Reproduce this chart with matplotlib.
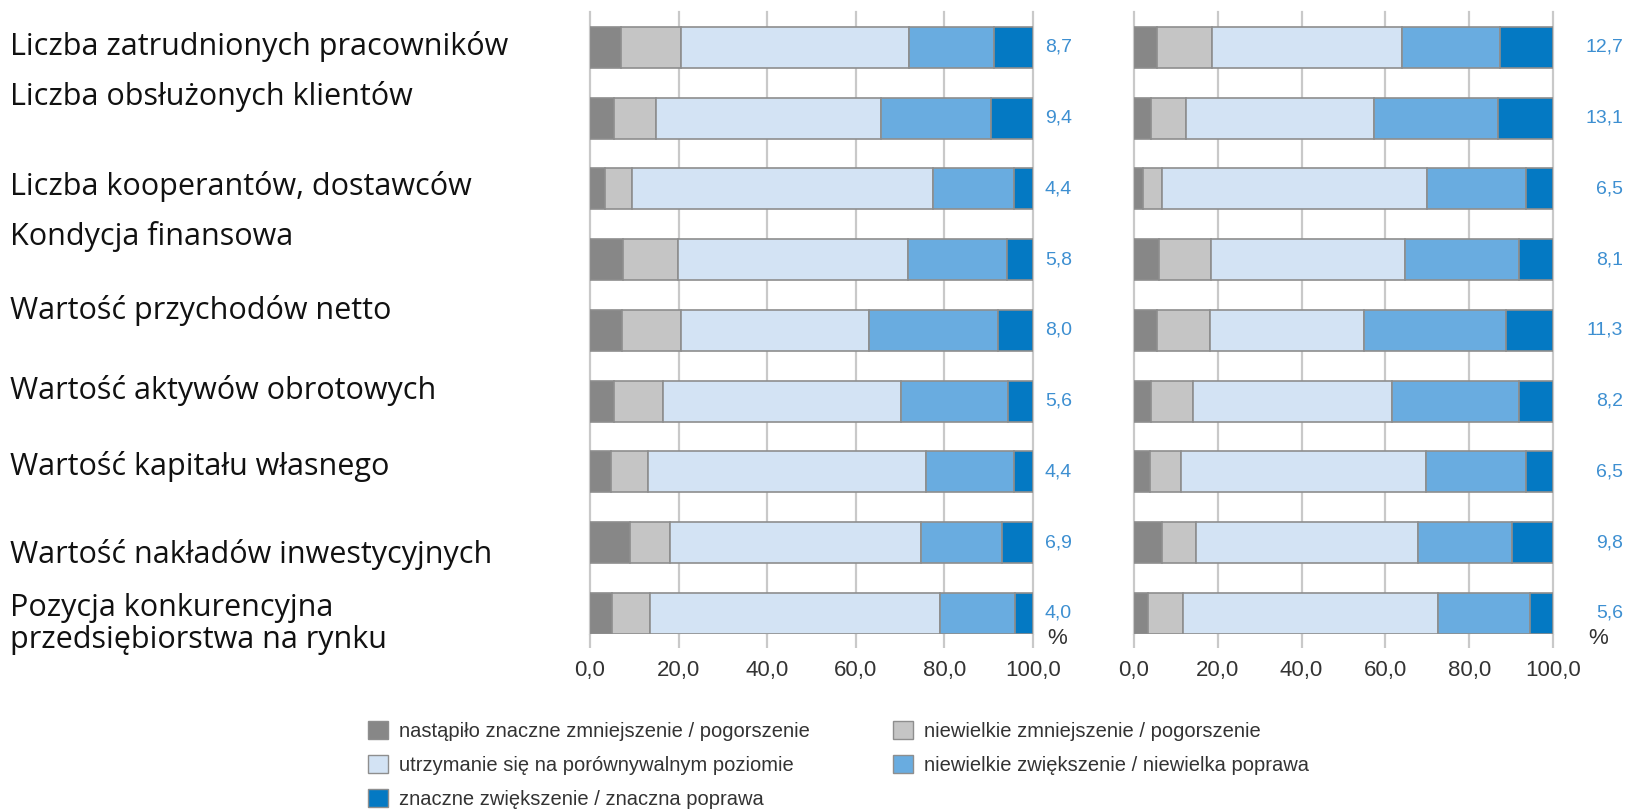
import matplotlib
matplotlib.use("Agg")
import matplotlib.pyplot as plt
from matplotlib.patches import Patch
import numpy as np

plt.rcParams["font.family"] = ["Liberation Sans", "DejaVu Sans"]

# kategorie (opisy po lewej) i legenda
categories = [
    "Liczba zatrudnionych pracowników",
    "Liczba obsłużonych klientów",
    "Liczba kooperantów, dostawców",
    "Kondycja finansowa",
    "Wartość przychodów netto",
    "Wartość aktywów obrotowych",
    "Wartość kapitału własnego",
    "Wartość nakładów inwestycyjnych",
    "Pozycja konkurencyjna\nprzedsiębiorstwa na rynku",
]
legend_labels = [
    "nastąpiło znaczne zmniejszenie / pogorszenie",
    "niewielkie zmniejszenie / pogorszenie",
    "utrzymanie się na porównywalnym poziomie",
    "niewielkie zwiększenie / niewielka poprawa",
    "znaczne zwiększenie / znaczna poprawa",
]
ticks = [0, 20, 40, 60, 80, 100]

# lewy panel, wartości w %
left_big_down = [7.1, 5.5, 3.4, 7.5, 7.3, 5.5, 4.7, 9.0, 5.0]
left_small_down = [13.4, 9.5, 6.0, 12.4, 13.2, 10.9, 8.5, 9.0, 8.5]
left_same = [51.5, 50.6, 68.0, 51.8, 42.4, 53.8, 62.7, 56.8, 65.6]
left_small_up = [19.3, 25.0, 18.2, 22.5, 29.1, 24.2, 19.7, 18.3, 16.9]
left_big_up = [8.7, 9.4, 4.4, 5.8, 8.0, 5.6, 4.4, 6.9, 4.0]

# prawy panel
right_big_down = [5.6, 4.0, 2.1, 5.9, 5.6, 4.0, 3.7, 6.7, 3.4]
right_small_down = [12.9, 8.4, 4.7, 12.4, 12.6, 10.0, 7.4, 8.1, 8.2]
right_same = [45.4, 44.8, 63.1, 46.4, 36.6, 47.5, 58.6, 52.9, 60.9]
right_small_up = [23.4, 29.7, 23.6, 27.2, 33.9, 30.3, 23.8, 22.5, 21.9]
right_big_up = [12.7, 13.1, 6.5, 8.1, 11.3, 8.2, 6.5, 9.8, 5.6]

colors = ["#878787", "#c5c5c5", "#d3e3f4", "#69ace0", "#0479c3"]
edge = "#8e8e8e"
grid_c = "#c9c9c9"
txt_c = "#333333"
val_c = "#3d8fd1"

W, H = 1628, 811
fig = plt.figure(figsize=(W / 100, H / 100), dpi=100)


def px_axes(x0, x1, y0, y1):
    return fig.add_axes([x0 / W, 1 - y1 / H, (x1 - x0) / W, (y1 - y0) / H])


def panel(ax, series, lab_dx, pct_dx):
    y = np.arange(len(categories))
    left = np.zeros(len(categories))
    for vals, c in zip(series, colors):
        ax.barh(y, vals, left=left, height=0.58, color=c, edgecolor=edge,
                linewidth=1.2, zorder=3)
        left += np.array(vals)
    ax.set_xlim(0, 100)
    ax.set_ylim(8.29, -0.5)
    ax.set_xticks(ticks)
    ax.set_xticklabels([f"{t:.1f}".replace(".", ",") for t in ticks])
    ax.set_yticks([])
    for s in ax.spines.values():
        s.set_visible(False)
    ax.grid(axis="x", color=grid_c, linewidth=1.6, zorder=0)
    for gl in ax.get_xgridlines():
        gl.set_clip_on(False)
    ax.tick_params(axis="x", length=10, width=1.6, color=grid_c, pad=9,
                   labelsize=16, labelcolor=txt_c)
    for i, v in enumerate(series[-1]):
        ax.annotate(f"{v:.1f}".replace(".", ","), xy=(100, i),
                    xytext=(lab_dx, 0), textcoords="offset pixels",
                    ha="right", va="center", color=val_c, fontsize=14,
                    annotation_clip=False)
    ax.annotate("%", xy=(100, 8), xytext=(pct_dx, -25),
                textcoords="offset pixels", ha="left", va="center",
                color=txt_c, fontsize=16, annotation_clip=False)


ax1 = px_axes(590, 1033, 12, 634)
panel(ax1, [left_big_down, left_small_down, left_same, left_small_up, left_big_up], 39, 14)
ax2 = px_axes(1134, 1553, 12, 634)
panel(ax2, [right_big_down, right_small_down, right_same, right_small_up, right_big_up], 70, 35)

# opisy kategorii
label_y = [47, 96, 186, 236, 311, 391, 467, 554, 624]
for lab, yy in zip(categories, label_y):
    fig.text(10 / W, 1 - yy / H, lab, ha="left", va="center", fontsize=22,
             family="Open Sans", color="#111111", linespacing=1.1)

handles = [Patch(facecolor=c, edgecolor=edge, linewidth=1.0) for c in colors]
order = [0, 2, 4, 1, 3]
fig.legend([handles[i] for i in order], [legend_labels[i] for i in order],
           ncol=2, loc="upper left", bbox_to_anchor=(360 / W, 1 - 713 / H),
           frameon=False, fontsize=14.5, labelcolor=txt_c,
           handlelength=1.0, handleheight=1.0, handletextpad=0.55,
           labelspacing=0.7, columnspacing=4.1, borderaxespad=0)

fig.savefig("out.png", dpi=100)
